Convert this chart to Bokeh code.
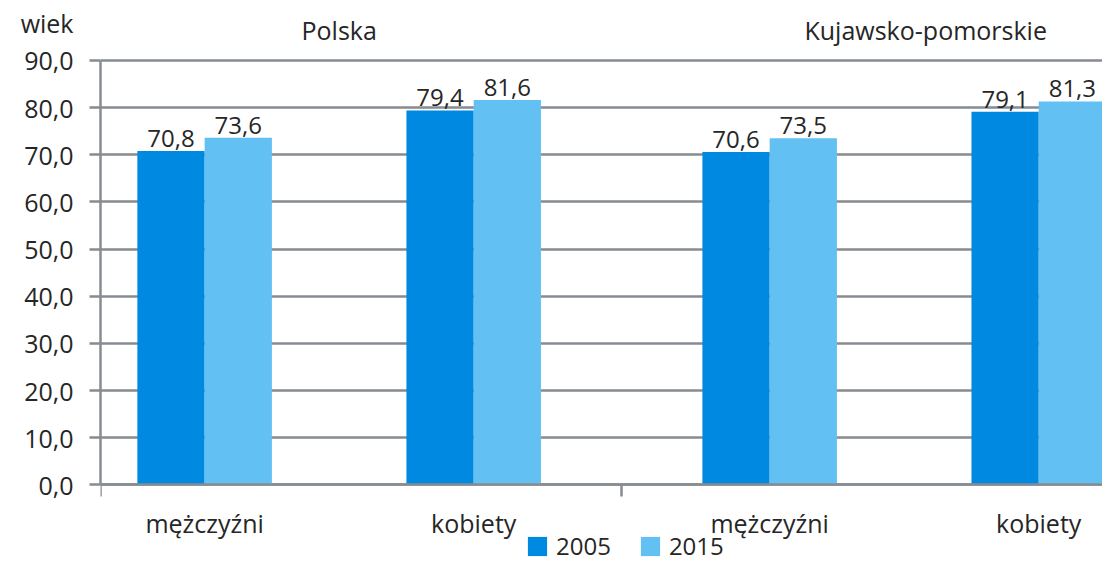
from bokeh.plotting import figure
from bokeh.models import (ColumnDataSource, LinearAxis, FixedTicker, Range1d, Grid,
                          Legend, LegendItem, LabelSet, Label)
from bokeh.core.properties import value
from bokeh.embed import file_html
from bokeh.resources import INLINE

# ---------------- data ----------------
regions = ["Polska", "Kujawsko-pomorskie"]
categories = ["mężczyźni", "kobiety"]
years = ["2005", "2015"]
values_2005 = [70.8, 79.4, 70.6, 79.1]   # Polska M, Polska K, Kuj-pom M, Kuj-pom K
values_2015 = [73.6, 81.6, 73.5, 81.3]
y_ticks = [0, 10, 20, 30, 40, 50, 60, 70, 80, 90]
y_tick_labels = ["0,0", "10,0", "20,0", "30,0", "40,0", "50,0", "60,0", "70,0", "80,0", "90,0"]
y_axis_title = "wiek"

# ---------------- style / layout ----------------
FONT = "Open Sans"
FS = "25px"
FS_SMALL = "24px"
TEXT = "#262626"
GRID = "#878C92"
C2005 = "#0089E0"
C2015 = "#62C0F3"
GROUP_GAP = 0.1
BAR_W = 0.25
X_START = -0.387
X_END = 3.337
Y_TOP = 102.7          # frame extends above the 90 line to hold the headers
Y_BOTTOM = -16.86      # ... and below 0 to hold category labels and legend
TITLE_Y = 98.0         # position of "wiek"
HEADER_Y = 96.4        # position of region headers

ncat = len(categories)
centers = [round(g * (ncat + GROUP_GAP) + c, 3) for g in range(len(regions)) for c in range(ncat)]
group_centers = [round(g * (ncat + GROUP_GAP) + (ncat - 1) / 2, 3) for g in range(len(regions))]
header_x = [group_centers[0], round(group_centers[1] + 0.08, 3)]
boundaries = [X_START] + [round(g * (ncat + GROUP_GAP) - 0.5 - GROUP_GAP / 2, 3) for g in range(1, len(regions))]
cat_labels = [categories[i % ncat] for i in range(len(centers))]

def fmt(v):
    return f"{v:.1f}".replace(".", ",")

src05 = ColumnDataSource(dict(x=[c - BAR_W / 2 for c in centers], top=values_2005,
                              lab=[fmt(v) for v in values_2005]))
src15 = ColumnDataSource(dict(x=[c + BAR_W / 2 for c in centers], top=values_2015,
                              lab=[fmt(v) for v in values_2015]))

p = figure(width=1102, height=564, output_backend="svg", toolbar_location=None,
           x_range=Range1d(X_START, X_END), y_range=Range1d(Y_BOTTOM, Y_TOP),
           min_border_left=100, min_border_right=0, min_border_top=0, min_border_bottom=0,
           x_axis_location=None, y_axis_location=None)
p.outline_line_color = None
p.xgrid.grid_line_color = None
p.ygrid.grid_line_color = None

# y axis: inner axis = line + tick marks (0..90), outer axis = labels incl. "wiek"
yax_ticks = LinearAxis(ticker=FixedTicker(ticks=y_ticks, minor_ticks=[]), bounds=(0, 90))
yax_ticks.major_label_overrides = {t: "" for t in y_ticks}
yax_ticks.axis_line_color = GRID
yax_ticks.axis_line_width = 2.5
yax_ticks.major_tick_line_color = GRID
yax_ticks.major_tick_line_width = 2.5
yax_ticks.major_tick_out = 11
yax_ticks.major_tick_in = 0
yax_ticks.minor_tick_line_color = None
yax_ticks.major_label_standoff = 0
yax_ticks.major_label_text_font_size = "1px"
p.add_layout(yax_ticks, "left")

lab_ticks = y_ticks + [TITLE_Y]
lab_texts = y_tick_labels + [y_axis_title]
yax_labels = LinearAxis(ticker=FixedTicker(ticks=lab_ticks, minor_ticks=[]))
yax_labels.major_label_overrides = {t: l for t, l in zip(lab_ticks, lab_texts)}
yax_labels.axis_line_color = None
yax_labels.major_tick_line_color = None
yax_labels.minor_tick_line_color = None
yax_labels.major_tick_out = 0
yax_labels.major_tick_in = 0
yax_labels.major_label_standoff = 16
yax_labels.major_label_text_font = FONT
yax_labels.major_label_text_font_size = FS
yax_labels.major_label_text_color = TEXT
p.add_layout(yax_labels, "left")

# horizontal gridlines
grid = Grid(dimension=1, ticker=FixedTicker(ticks=y_ticks), grid_line_color=GRID, grid_line_width=2.5)
p.add_layout(grid)

# x axis at y=0 (category labels + group boundary ticks)
xax = LinearAxis(ticker=FixedTicker(ticks=centers, minor_ticks=boundaries), fixed_location=0)
xax.major_label_overrides = {c: l for c, l in zip(centers, cat_labels)}
xax.axis_line_color = GRID
xax.axis_line_width = 2.5
xax.major_tick_line_color = None
xax.major_tick_out = 0
xax.major_tick_in = 0
xax.minor_tick_line_color = GRID
xax.minor_tick_line_width = 2.5
xax.minor_tick_out = 12
xax.minor_tick_in = 0
xax.major_label_standoff = 9
xax.major_label_text_font = FONT
xax.major_label_text_font_size = FS
xax.major_label_text_color = TEXT
p.add_layout(xax, "below")

# bars
r05 = p.vbar(x="x", top="top", width=BAR_W, source=src05, fill_color=C2005, line_color=None)
r15 = p.vbar(x="x", top="top", width=BAR_W, source=src15, fill_color=C2015, line_color=None)

for s in (src05, src15):
    p.add_layout(LabelSet(x="x", y="top", text="lab", source=s, text_align="center",
                          text_baseline="alphabetic", y_offset=4, text_font=value(FONT),
                          text_font_size=value(FS_SMALL), text_color=TEXT))

# region headers
for hx, name in zip(header_x, regions):
    p.add_layout(Label(x=hx, y=HEADER_Y, text=name, text_align="center", text_baseline="middle",
                       text_font=FONT, text_font_size=FS, text_color=TEXT))

legend = Legend(items=[LegendItem(label=years[0], renderers=[r05]),
                       LegendItem(label=years[1], renderers=[r15])],
                orientation="horizontal", location=(425, 2),
                border_line_color=None, background_fill_alpha=0, padding=0, margin=0,
                spacing=27, label_standoff=7, glyph_width=24, glyph_height=24, label_height=24,
                label_text_font=FONT, label_text_font_size=FS_SMALL, label_text_color=TEXT)
p.add_layout(legend)

open("out.html", "w").write(file_html(p, INLINE))
